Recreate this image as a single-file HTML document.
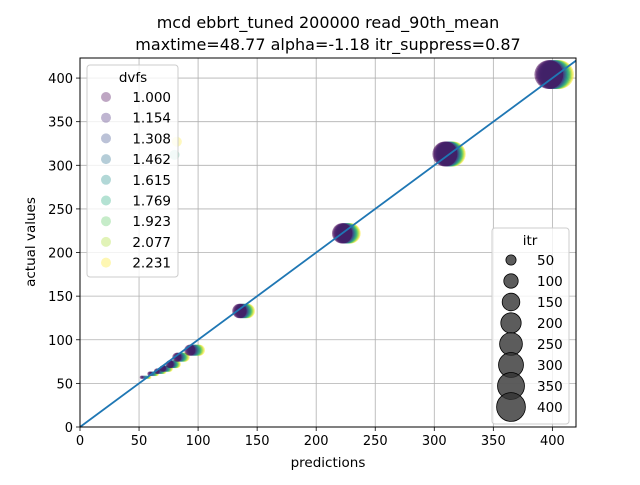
<!DOCTYPE html>
<html><head><meta charset="utf-8"><style>
body{margin:0;background:#fff;font-family:"Liberation Sans","DejaVu Sans",sans-serif;}
svg text{font-family:"DejaVu Sans","Liberation Sans",sans-serif;}
</style></head><body>
<svg id="chart" width="640" height="480" xmlns="http://www.w3.org/2000/svg">
<rect width="640" height="480" fill="#fff"/>
<text x="328" y="28" font-size="16" text-anchor="middle">mcd ebbrt_tuned 200000 read_90th_mean</text>
<text x="328" y="50" font-size="16" text-anchor="middle">maxtime=48.77 alpha=-1.18 itr_suppress=0.87</text>
<g id="grid"></g>
<g id="marks"></g>
<g id="axes"></g>
<text x="328" y="467" font-size="13.5" text-anchor="middle">predictions</text>
<text transform="translate(35,242) rotate(-90)" font-size="13.5" text-anchor="middle">actual values</text>
<g id="legends"></g>
</svg>
<script>
const actualVals = [57, 61, 64, 67, 72, 80, 88, 133, 222, 313, 404];
const predLow = [52, 59, 65, 70, 76, 82, 93, 135, 222, 309, 397];
const predHigh = [59, 65, 71, 76, 82, 89, 101, 142, 229, 316, 406];
const itrVals = [5, 10, 15, 20, 30, 40, 60, 100, 200, 300, 400];
const dvfsLabels = ["1.000","1.154","1.308","1.462","1.615","1.769","1.923","2.077","2.231"];
const dvfsColors = ["#440154","#472c7a","#3b518b","#2c718e","#21908d","#27ad81","#5cc863","#aadc32","#fde725"];
const outlierPred = [82, 80];
const outlierActual = [327, 312];
const outlierDvfs = [8, 5];
const xTicks = [0,50,100,150,200,250,300,350,400];
const yTicks = [0,50,100,150,200,250,300,350,400];
const itrLegend = [50,100,150,200,250,300,350,400];

const NS="http://www.w3.org/2000/svg";
const L=80,R=576,T=58,B=427,XMAX=420,YMAX=423;
const xs=v=>L+v/XMAX*(R-L), ys=v=>B-v/YMAX*(B-T);
const rad=itr=>0.72*Math.sqrt(itr);
function mk(tag,attrs,parent,txt){const e=document.createElementNS(NS,tag);for(const k in attrs)e.setAttribute(k,attrs[k]);if(txt!==undefined)e.textContent=txt;parent.appendChild(e);return e;}
const grid=document.getElementById('grid'),marks=document.getElementById('marks'),axes=document.getElementById('axes'),leg=document.getElementById('legends');
xTicks.forEach(t=>{const x=xs(t);
 const g=mk('line',{x1:x,x2:x,y1:T,y2:B,stroke:'#b0b0b0','stroke-width':0.8},grid);
 
 
 mk('line',{x1:x,x2:x,y1:B,y2:B+4,stroke:'#000','stroke-width':0.8},axes);
 const tx=mk('text',{x:x,y:B+18,'font-size':13,'text-anchor':'middle'},axes,String(t));
 
 });
yTicks.forEach(t=>{const y=ys(t);
 const g=mk('line',{x1:L,x2:R,y1:y,y2:y,stroke:'#b0b0b0','stroke-width':0.8},grid);
 
 
 mk('line',{x1:L-4,x2:L,y1:y,y2:y,stroke:'#000','stroke-width':0.8},axes);
 const tx=mk('text',{x:L-7,y:y+5,'font-size':13,'text-anchor':'end'},axes,String(t));
 
 });
for(let d=dvfsColors.length-1;d>=0;d--){
 actualVals.forEach((a,i)=>{const p=predLow[i]+(predHigh[i]-predLow[i])*d/(dvfsColors.length-1);
  const c=mk('circle',{cx:xs(p),cy:ys(a),r:rad(itrVals[i]),fill:dvfsColors[d],'fill-opacity':0.55},marks);
  
  });
}
outlierPred.forEach((p,i)=>{const c=mk('circle',{cx:xs(p),cy:ys(outlierActual[i]),r:5,fill:dvfsColors[outlierDvfs[i]],'fill-opacity':0.3},marks);
 
 });
const ln=mk('line',{x1:xs(0),y1:ys(0),x2:R,y2:ys(XMAX),stroke:'#1f77b4','stroke-width':1.8},marks);


const fr=mk('rect',{x:L,y:T,width:R-L,height:B-T,fill:'none',stroke:'#000','stroke-width':1},axes);


const lb=mk('rect',{x:87,y:65,width:91,height:212,rx:3,fill:'#fff','fill-opacity':0.8,stroke:'#ccc'},leg);


mk('text',{x:133,y:82,'font-size':13.5,'text-anchor':'middle'},leg,'dvfs');
dvfsLabels.forEach((l,i)=>{const y=97+i*20.7;
 const c=mk('circle',{cx:106,cy:y,r:5,fill:dvfsColors[i],'fill-opacity':0.35},leg);
 
 
 mk('text',{x:171,y:y+5,'font-size':13.5,'text-anchor':'end'},leg,l);});
const lb2=mk('rect',{x:492,y:228,width:77,height:196,rx:3,fill:'#fff','fill-opacity':0.8,stroke:'#ccc'},leg);


mk('text',{x:530,y:245,'font-size':13.5,'text-anchor':'middle'},leg,'itr');
itrLegend.forEach((v,i)=>{const y=260+i*21;
 const c=mk('circle',{cx:511,cy:y,r:rad(v),fill:'#333','fill-opacity':0.8,stroke:'#000','stroke-width':0.8},leg);
 
 
 mk('text',{x:537,y:y+5,'font-size':13.5},leg,String(v));});
</script>
</body></html>
